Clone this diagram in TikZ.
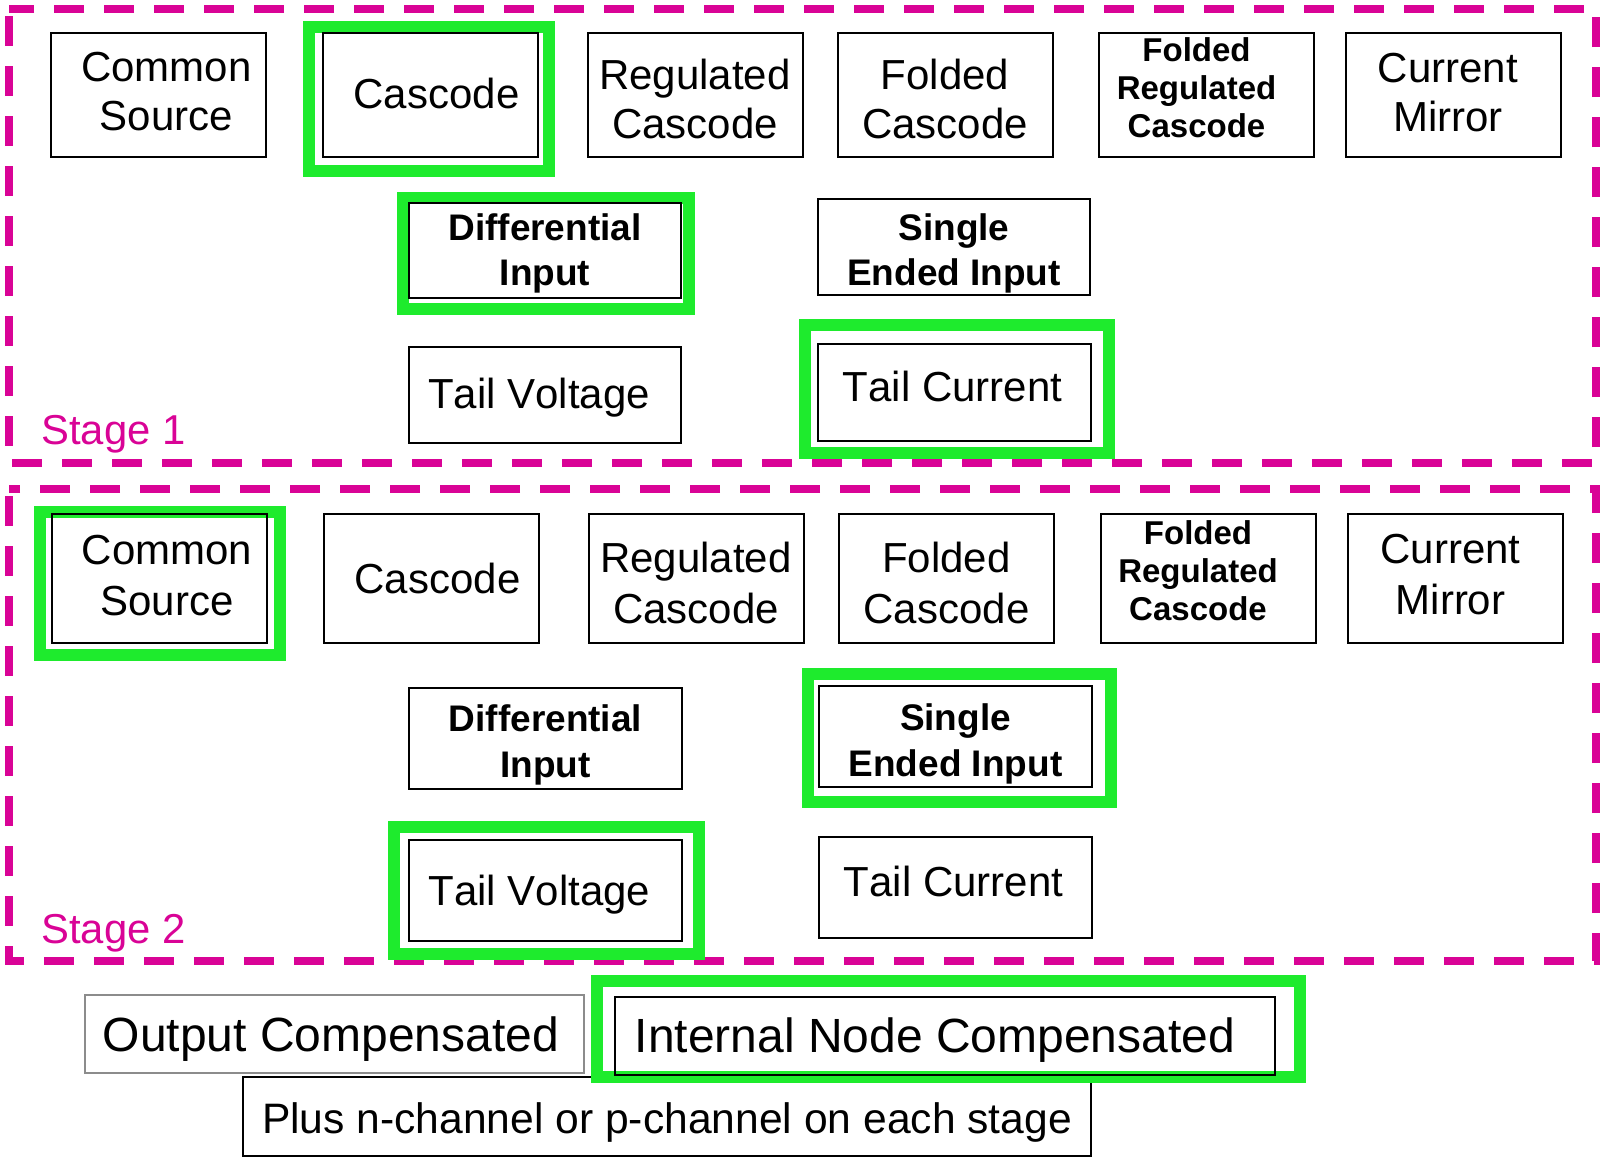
\documentclass[tikz,border=0pt]{standalone}
\usepackage{fontspec}
\setmainfont[Kerning=Off]{Liberation Sans}
\definecolor{mag}{RGB}{217,3,150}
\definecolor{grn}{RGB}{30,235,45}
\definecolor{gbord}{RGB}{140,140,140}
\newcommand{\fntA}{\fontsize{21}{24.5}\selectfont}
\newcommand{\fntAA}{\fontsize{21}{25.5}\selectfont}
\newcommand{\fntB}{\bfseries\fontsize{18.5}{22.5}\selectfont}
\newcommand{\fntBB}{\bfseries\fontsize{18.5}{23}\selectfont}
\newcommand{\fntC}{\bfseries\fontsize{16.5}{19}\selectfont}
\newcommand{\fntD}{\fontsize{24}{28}\selectfont}
\newcommand{\fntP}{\fontsize{21.3}{25}\selectfont}
\newcommand{\fntS}{\fontsize{20.9}{24}\selectfont}
% \lift{v}: baseline midpoint of the text lies v px below the box centre
\newcommand{\lift}[1]{\rule{0pt}{#1pt}}
\tikzset{
  bx/.style={draw=black, line width=1pt, inner sep=0pt, align=center, font=\fntA},
  rowA/.style={bx, minimum width=107.5pt, minimum height=62pt},
  rowB/.style={bx, font=\fntAA, minimum width=107.5pt, minimum height=64.5pt},
  midA/.style={bx, minimum width=136pt, minimum height=48pt},
  midB/.style={bx, minimum width=136.5pt, minimum height=50.5pt},
  stageframe/.style={draw=mag, line width=4pt, dash pattern=on 15pt off 10pt, dash phase=21.5pt},
  hilite/.style={draw=grn, line width=6pt},
  stagelabel/.style={text=mag, font=\fntS, inner sep=0pt, anchor=base west},
}
\begin{document}
\begin{tikzpicture}[x=0.5pt, y=-0.5pt]
\useasboundingbox (0,0) rectangle (1600,1157);
% stage frames
\draw[stageframe] (9,9) rectangle (1596,463);
\draw[stageframe] (9,489) rectangle (1596,961);
% bottom plus box (under the green frame)
\node[bx, font=\fntP, minimum width=424pt, minimum height=39.5pt] (pl) at (667,1116.5) {\lift{16.5}\smash{Plus n-channel or p-channel on each stage}};
% green highlight frames
\draw[hilite] (309,26.5) rectangle (549,170.5);
\draw[hilite] (403,197.5) rectangle (689,308.5);
\draw[hilite] (805,325) rectangle (1109,453);
\draw[hilite] (40,512) rectangle (280,655);
\draw[hilite] (808,674) rectangle (1111,802);
\draw[hilite] (394,827) rectangle (699,954);
\draw[hilite] (597,981) rectangle (1300,1077);
% stage 1
\node[rowA] (cs1) at (158.5,95) {\lift{11}\hspace*{8pt}\smash{Common}\\\hspace*{8pt}\smash{Source}};
\node[rowA] (ca1) at (430.5,95) {\lift{13}\hspace*{6pt}\smash{Cascode}};
\node[rowA] (rc1) at (695,95) {\lift{19}\smash{Regulated}\\\smash{Cascode}};
\node[rowA] (fc1) at (945,95) {\lift{19}\smash{Folded}\\\smash{Cascode}};
\node[rowA, font=\fntC] (frc1) at (1206.5,95) {\lift{4.2}\hspace*{-10pt}\smash{Folded}\\\hspace*{-10pt}\smash{Regulated}\\\hspace*{-10pt}\smash{Cascode}};
\node[rowA] (cm1) at (1453,95) {\lift{11.5}\hspace*{-5pt}\smash{Current}\\\hspace*{-5pt}\smash{Mirror}};
\node[bx, font=\fntB, minimum width=136pt, minimum height=47.5pt] (di1) at (545,250.5) {\lift{12}\smash{Differential}\\\smash{Input}};
\node[midA, font=\fntB] (se1) at (954,247) {\lift{15.5}\smash{Single}\\\smash{Ended Input}};
\node[midA] (tv1) at (545,395) {\lift{13}\hspace*{-6pt}\smash{Tail Voltage}};
\node[bx, minimum width=136.5pt, minimum height=48.5pt] (tc1) at (954.5,392.5) {\lift{8.5}\hspace*{-2pt}\smash{Tail Current}};
\node[stagelabel] (st1) at (41,444) {Stage 1};
% stage 2
\node[rowB] (cs2) at (159,578.5) {\lift{11.3}\hspace*{8pt}\smash{Common}\\\hspace*{8pt}\smash{Source}};
\node[rowB] (ca2) at (431.5,578.5) {\lift{14.8}\hspace*{6pt}\smash{Cascode}};
\node[rowB] (rc2) at (696,578.5) {\lift{19.5}\smash{Regulated}\\\smash{Cascode}};
\node[rowB] (fc2) at (946.5,578.5) {\lift{19.5}\smash{Folded}\\\smash{Cascode}};
\node[rowB, font=\fntC] (frc2) at (1208,578.5) {\lift{3.5}\hspace*{-10pt}\smash{Folded}\\\hspace*{-10pt}\smash{Regulated}\\\hspace*{-10pt}\smash{Cascode}};
\node[rowB] (cm2) at (1455.5,578.5) {\lift{10.7}\hspace*{-5pt}\smash{Current}\\\hspace*{-5pt}\smash{Mirror}};
\node[midB, font=\fntBB] (di2) at (545.5,738.5) {\lift{15.5}\smash{Differential}\\\smash{Input}};
\node[midB, font=\fntBB] (se2) at (955.5,736.5) {\lift{16.5}\smash{Single}\\\smash{Ended Input}};
\node[midB] (tv2) at (545.5,890.5) {\lift{14.5}\hspace*{-6pt}\smash{Tail Voltage}};
\node[midB] (tc2) at (955.5,887.5) {\lift{9.2}\hspace*{-2pt}\smash{Tail Current}};
\node[stagelabel] (st2) at (41,943) {Stage 2};
% compensation
\node[bx, draw=gbord, font=\fntD, minimum width=249.5pt, minimum height=39pt] (oc) at (334.5,1034) {\lift{17.7}\hspace*{-3.5pt}\smash{Output Compensated}};
\node[bx, font=\fntD, minimum width=330pt, minimum height=39pt] (inc) at (945,1036) {\lift{16.7}\hspace*{-10pt}\smash{Internal Node Compensated}};
\end{tikzpicture}
\end{document}
